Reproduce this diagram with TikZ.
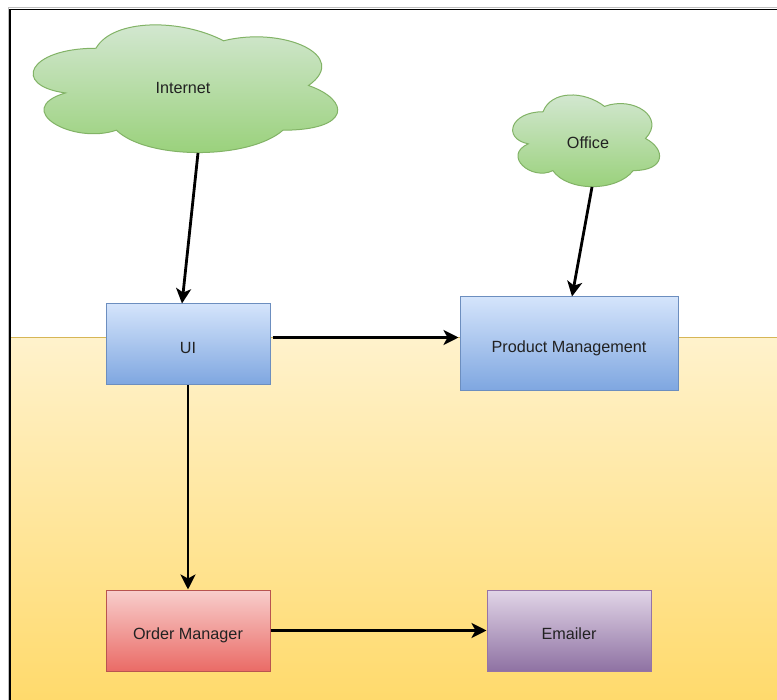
\documentclass[tikz,border=0pt]{standalone}
\usepackage{fontspec}
\setmainfont{Liberation Sans}
\usetikzlibrary{arrows.meta,calc}
\definecolor{txt}{HTML}{222222}
\definecolor{blueA}{HTML}{D4E4FB}
\definecolor{blueB}{HTML}{7EA6E0}
\definecolor{blueS}{HTML}{6C8EBF}
\definecolor{redA}{HTML}{F8CECC}
\definecolor{redB}{HTML}{EA6B66}
\definecolor{redS}{HTML}{B85450}
\definecolor{purA}{HTML}{E1D5E7}
\definecolor{purB}{HTML}{8F72A3}
\definecolor{purS}{HTML}{9673A6}
\definecolor{grnA}{HTML}{D5E8D4}
\definecolor{grnB}{HTML}{97D077}
\definecolor{grnS}{HTML}{82B366}
\definecolor{yelA}{HTML}{FFF2CC}
\definecolor{yelB}{HTML}{FFDA6C}
\definecolor{yelS}{HTML}{D6B656}
\tikzset{
  box/.style={rectangle, line width=1pt, text=txt, font=\fontsize{16.2}{19}\selectfont, inner sep=0pt, text height=17.7pt, text depth=0pt},
  bluebox/.style={box, draw=blueS, top color=blueA, bottom color=blueB},
  redbox/.style={box, draw=redS, top color=redA, bottom color=redB},
  purbox/.style={box, draw=purS, top color=purA, bottom color=purB},
  cloudfill/.style={draw=grnS, line width=1pt, top color=grnA, bottom color=grnB},
  label/.style={text=txt, font=\fontsize{16.2}{19}\selectfont, inner sep=0pt, text height=11.6pt, text depth=0pt},
  arr/.style={line width=2.8pt, -{Stealth[length=15pt,width=15pt,inset=4pt]}},
  cloudpath/.pic={
    \path[cloudfill] (0.25,0.25) .. controls (0.05,0.25) and (0,0.5) .. (0.16,0.55)
      .. controls (0,0.66) and (0.18,0.9) .. (0.31,0.8)
      .. controls (0.4,1) and (0.7,1) .. (0.8,0.8)
      .. controls (1,0.8) and (1,0.6) .. (0.875,0.5)
      .. controls (1,0.3) and (0.8,0.1) .. (0.625,0.2)
      .. controls (0.5,0.05) and (0.3,0.05) .. (0.25,0.25) -- cycle;
  }
}
\begin{document}
\begin{tikzpicture}[x=1pt,y=-1pt]
\useasboundingbox (0,0) rectangle (777,700);
\fill[white] (0,0) rectangle (777,700);
% yellow zone
\path[top color=yelA, bottom color=yelB] (11,338) rectangle (777,700);
\draw[yelS, line width=1pt] (11,338) -- (777,338);
% frame
\draw[black!25, line width=0.8pt] (8.5,700) -- (8.5,7.8) -- (777,7.8);
\draw[black, line width=1.5pt] (10,700) -- (10,9.5) -- (777,9.5);
% clouds
\begin{scope}[shift={(11,11)}, x=340pt, y=-149pt]
  \pic {cloudpath};
\end{scope}
\begin{scope}[shift={(502,85)}, x=164pt, y=-107pt]
  \pic {cloudpath};
\end{scope}
\node[label] (internet) at (183,88) {Internet};
\node[label] (office) at (588,142.5) {Office};
\coordinate (inetb) at (198,153);
\coordinate (officeb) at (592,187);
% boxes
\node[bluebox, minimum width=164, minimum height=81] (ui) at (188,344.5) {UI};
\node[bluebox, minimum width=218, minimum height=94] (pm) at (569,344) {Product Management};
\node[redbox, minimum width=164, minimum height=81] (om) at (188,630.5) {Order Manager};
\node[purbox, minimum width=164, minimum height=81] (em) at (569,630.5) {Emailer};
% connectors
\draw[arr] (inetb) -- ([xshift=-6pt]ui.north);
\draw[arr] (officeb) -- ([xshift=3pt]pm.north);
\draw[arr] ([xshift=2pt,yshift=7pt]ui.east) -- ([xshift=-1pt,yshift=7pt]ui.east -| pm.west);
\draw[arr] (ui.south) -- (om.north);
\draw[arr] (om.east) -- (em.west);
\end{tikzpicture}
\end{document}
